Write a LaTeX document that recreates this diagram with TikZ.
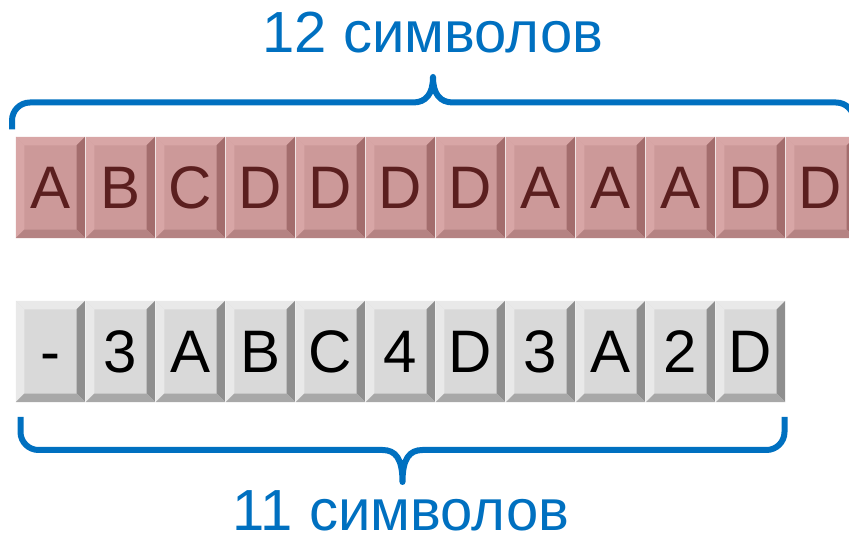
\documentclass[tikz,border=0pt]{standalone}
\usepackage{fontspec}
\setmainfont{Liberation Sans}
\definecolor{bl}{HTML}{0070C0}
\definecolor{rface}{HTML}{CC9999}
\definecolor{rtl}{HTML}{D8A6A6}
\definecolor{rr}{HTML}{A36D6D}
\definecolor{rb}{HTML}{B58383}
\definecolor{rtext}{HTML}{5B1F1F}
\definecolor{gface}{HTML}{D9D9D9}
\definecolor{gtl}{HTML}{E9E9E9}
\definecolor{gr}{HTML}{8F8F8F}
\definecolor{gb}{HTML}{A8A8A8}
\newcommand\keybevels[5]{%
  \fill[#2] (#1.north west) -- (#1.north east) -- ([shift={(-8.5pt,-8.5pt)}]#1.north east) -- ([shift={(8.5pt,-8.5pt)}]#1.north west) -- cycle;
  \fill[#3] (#1.north west) -- ([shift={(8.5pt,-8.5pt)}]#1.north west) -- ([shift={(8.5pt,8.5pt)}]#1.south west) -- (#1.south west) -- cycle;
  \fill[#4] (#1.north east) -- (#1.south east) -- ([shift={(-8.5pt,8.5pt)}]#1.south east) -- ([shift={(-8.5pt,-8.5pt)}]#1.north east) -- cycle;
  \fill[#5] (#1.south west) -- ([shift={(8.5pt,8.5pt)}]#1.south west) -- ([shift={(-8.5pt,8.5pt)}]#1.south east) -- (#1.south east) -- cycle;
}
\tikzset{
  keybase/.style={minimum width=69pt, minimum height=101pt, inner sep=0pt,
    text height=43pt, text depth=0pt, font=\fontsize{60}{60}\selectfont},
  keyr/.style={keybase, fill=rface, text=rtext},
  keyg/.style={keybase, fill=gface, text=black},
  brace/.style={draw=bl, line width=6pt, line join=round, line cap=butt},
  lbl/.style={text=bl, inner sep=0pt, text depth=0pt, font=\fontsize{58}{58}\selectfont}
}
\begin{document}
\begin{tikzpicture}[x=1pt,y=1pt]
\useasboundingbox (0,0) rectangle (849,540);
\clip (0,0) rectangle (849,540);
\foreach \t [count=\i from 0] in {A,B,C,D,D,D,D,A,A,A,D,D} {
  \node[keyr] (t\i) at (50.5+70*\i, 352.5) {\t};
  \keybevels{t\i}{rtl}{rtl}{rr}{rb}
}
\foreach \t [count=\i from 0] in {-,3,A,B,C,4,D,3,A,2,D} {
  \node[keyg] (b\i) at (50.5+70*\i, 188.5) {\t};
  \keybevels{b\i}{gtl}{gtl}{gr}{gb}
}
\draw[brace] (12,410.7) -- (12,419.5) arc[start angle=180,end angle=90,radius=18]
  -- (413,437.5) .. controls (426,437.5) and (433,446) .. (433,463)
  .. controls (433,446) and (440,437.5) .. (453,437.5)
  -- (836,437.5) arc[start angle=90,end angle=0,radius=18] -- (854,410.7);
\draw[brace] (20.5,123) -- (20.5,108) arc[start angle=180,end angle=270,radius=18]
  -- (382.5,90) .. controls (395.5,90) and (402.5,81.5) .. (402.5,58)
  .. controls (402.5,81.5) and (409.5,90) .. (422.5,90)
  -- (766.5,90) arc[start angle=270,end angle=360,radius=18] -- (784.5,123);
\node[lbl, anchor=base] (t12) at (433,487) {12 символов};
\node[lbl, anchor=base] (t11) at (401,9) {11 символов};
\end{tikzpicture}
\end{document}
